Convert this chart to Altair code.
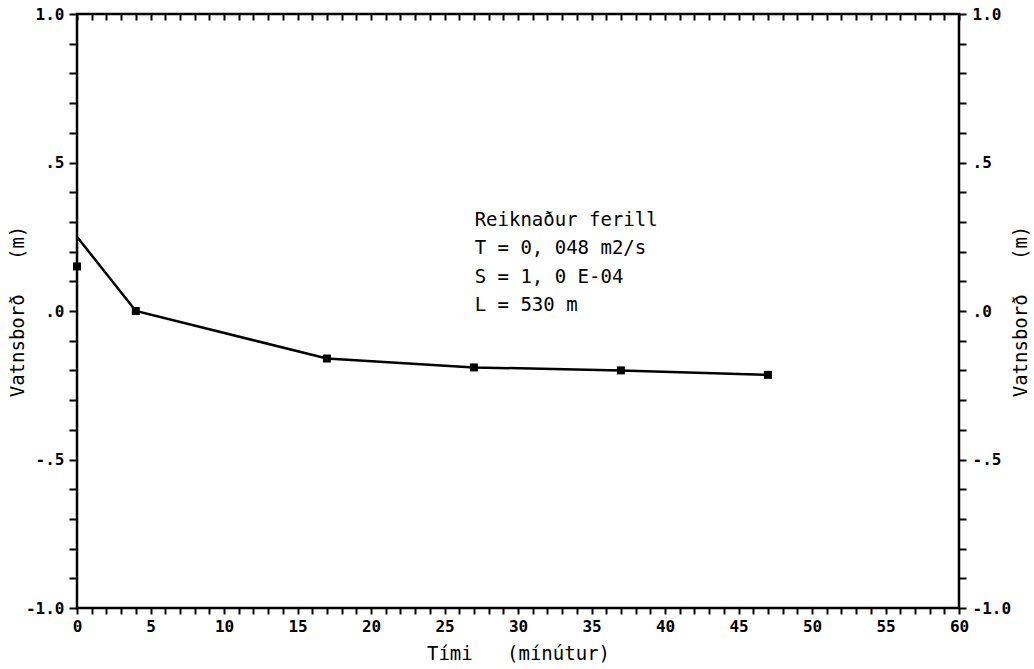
import altair as alt
import pandas as pd

# ---- data ----
t_min = [0, 4, 17, 27, 37, 47]                       # Tími (mínútur)
calc = [0.25, 0.0, -0.16, -0.19, -0.20, -0.215]      # Reiknaður ferill (line)
obs = [0.15, 0.0, -0.16, -0.19, -0.20, -0.215]       # mælt (squares)

x_ticks = list(range(0, 61))
y_ticks = [-1.0, -0.9, -0.8, -0.7, -0.6, -0.5, -0.4, -0.3, -0.2, -0.1, 0.0,
           0.1, 0.2, 0.3, 0.4, 0.5, 0.6, 0.7, 0.8, 0.9, 1.0]
y_labels = {10: "1.0", 5: ".5", 0: ".0", -5: "-.5", -10: "-1.0"}

note_lines = ["Reiknaður ferill", "T = 0, 048 m2/s", "S = 1, 0 E-04", "L = 530 m"]
note_x = [27.05, 27.05, 27.05, 27.05]
note_y = [0.308, 0.212, 0.116, 0.019]

NB = "\u00a0"
x_title = "Tími" + NB * 3 + "(mínútur)"
y_title = "Vatnsborð" + NB * 3 + "(m)"

df = pd.DataFrame({"t": t_min, "calc": calc, "obs": obs})
notes = pd.DataFrame({"x": note_x, "y": note_y, "txt": [s.replace(" ", NB) for s in note_lines]})

W, H = 882, 594
MONO = "DejaVu Sans Mono"

y_expr = " : ".join(f"round(datum.value*10)=={k} ? '{v}'" for k, v in y_labels.items()) + " : ''"
x_expr = "datum.value % 5 == 0 ? datum.label : ''"

xs = alt.Scale(domain=[0, 60], nice=False, zero=False)
ys = alt.Scale(domain=[-1, 1], nice=False, zero=False)

x_axis = alt.Axis(values=x_ticks, labelExpr=x_expr, title=x_title, orient="bottom",
                  tickSize=6, tickWidth=2, tickColor="black", domain=False, grid=False,
                  labelFont=MONO, labelFontWeight="bold", labelFontSize=16, labelColor="black",
                  labelPadding=4, labelFlush=False, labelOverlap=False,
                  titleFont=MONO, titleFontWeight="normal", titleFontSize=19, titleColor="black",
                  titleX=W / 2, titleY=45, titleBaseline="middle", titleAlign="center")
y_axis = alt.Axis(values=y_ticks, labelExpr=y_expr, title=y_title, orient="left",
                  tickSize=8, tickWidth=2, tickColor="black", domain=False, grid=False,
                  labelFont=MONO, labelFontWeight="bold", labelFontSize=16, labelColor="black",
                  labelPadding=5, labelFlush=False, labelOverlap=False,
                  titleFont=MONO, titleFontWeight="normal", titleFontSize=19, titleColor="black",
                  titleAngle=270, titleX=-60, titleY=H / 2, titleBaseline="middle", titleAlign="center")

xe = alt.X("t:Q", scale=xs, axis=x_axis)

line = alt.Chart(df).mark_line(color="black", strokeWidth=2.5).encode(
    x=xe, y=alt.Y("calc:Q", scale=ys, axis=y_axis))
pts = alt.Chart(df).mark_square(color="black", size=64, opacity=1).encode(
    x=xe, y=alt.Y("obs:Q", scale=ys, axis=y_axis))
txt = alt.Chart(notes).mark_text(font=MONO, fontSize=19, align="left", baseline="middle",
                                 color="black").encode(
    x=alt.X("x:Q", scale=xs, axis=x_axis), y=alt.Y("y:Q", scale=ys, axis=y_axis), text="txt:N")

main = alt.layer(line, pts, txt)

x2_axis = alt.Axis(values=x_ticks, labels=False, title=None, orient="top", offset=-6,
                   tickSize=6, tickWidth=2, tickColor="black", domain=False, grid=False)
y2_axis = alt.Axis(values=y_ticks, labelExpr=y_expr, title=y_title, orient="right",
                   tickSize=7, tickWidth=2, tickColor="black", domain=False, grid=False,
                   labelFont=MONO, labelFontWeight="bold", labelFontSize=16, labelColor="black",
                   labelPadding=6, labelFlush=False, labelOverlap=False,
                   titleFont=MONO, titleFontWeight="normal", titleFontSize=19, titleColor="black",
                   titleAngle=270, titleX=61, titleY=H / 2, titleBaseline="middle", titleAlign="center")

frame = alt.Chart(df).mark_point(opacity=0).encode(
    x=alt.X("t:Q", scale=alt.Scale(domain=[0, 60], nice=False, zero=False), axis=x2_axis),
    y=alt.Y("obs:Q", scale=alt.Scale(domain=[-1, 1], nice=False, zero=False), axis=y2_axis))

chart = alt.layer(main, frame).resolve_scale(x="independent", y="independent").properties(
    width=W, height=H,
    autosize=alt.AutoSizeParams(type="none"),
    padding={"left": 77, "top": 14, "right": 75, "bottom": 61},
    background="white",
).configure_view(stroke="black", strokeWidth=2.5)

chart.save("out.html", embed_options={"renderer": "svg", "actions": False})
